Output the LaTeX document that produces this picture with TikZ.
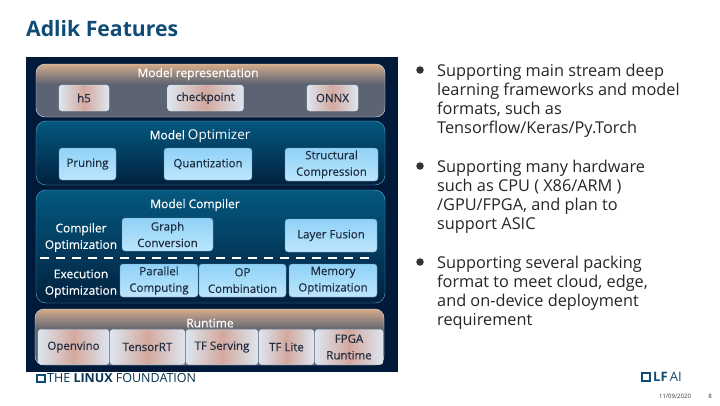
\documentclass[tikz,border=0pt]{standalone}
\usepackage{fontspec}
\setmainfont{Open Sans}
\newfontfamily\boxfont[FakeBold=0.35]{Open Sans}
\usepackage{xcolor}
\definecolor{panelbg}{HTML}{021A3A}
\definecolor{bandtop}{HTML}{04587F}
\definecolor{bandlow}{HTML}{02213F}
\definecolor{bandline}{HTML}{5FA9CF}
\definecolor{pinkmid}{HTML}{D4A89E}
\definecolor{paleblue}{HTML}{DDE6F0}
\definecolor{skytop}{HTML}{8FD2F7}
\definecolor{skylow}{HTML}{BDE6FD}
\definecolor{boxtext}{HTML}{1F2D3F}
\definecolor{titleblue}{HTML}{0F4C75}
\usetikzlibrary{positioning}
\pgfdeclareverticalshading{tanshade}{100bp}{
  rgb(0bp)=(0.36,0.39,0.45); rgb(56bp)=(0.36,0.39,0.45);
  rgb(75bp)=(0.83,0.67,0.54); rgb(100bp)=(0.83,0.67,0.54)}

\tikzset{
  blueband/.style={draw=bandline, rounded corners=10pt, top color=bandtop, bottom color=bandlow, inner sep=0pt},
  tanband/.style={draw=paleblue, rounded corners=9pt, shading=tanshade, inner sep=0pt},
  skybox/.style={draw=skytop!70!black, rounded corners=3pt, top color=skytop, bottom color=skylow, text=boxtext, align=center, inner sep=0pt, font=\fontsize{11.5}{16.5}\boxfont},
  pinkbox/.style={draw=paleblue, rounded corners=3pt, left color=paleblue, right color=paleblue, middle color=pinkmid, text=boxtext, align=center, inner sep=0pt, font=\fontsize{11.5}{16.5}\boxfont},
  headtext/.style={text=white, align=center, font=\fontsize{12}{16.5}\boxfont},
  bodytext/.style={anchor=north west, align=left, inner sep=0pt, text=black!85, font=\fontsize{16.3}{19}\selectfont},
  dotmark/.style={circle, fill=black!80, minimum size=7.5pt, inner sep=0pt}
}

\begin{document}
\begin{tikzpicture}[x=1pt,y=-1pt]
  \useasboundingbox (0,0) rectangle (720,405);
  \fill[white] (0,0) rectangle (720,405);

  % title
  \node[anchor=west, inner sep=0pt, text=titleblue, font=\fontsize{21.2}{26}\selectfont\bfseries] (title) at (26,29) {Adlik Features};

  % panel and bands
  \node[fill=panelbg, minimum width=372pt, minimum height=315pt, inner sep=0pt] (panel) at (212,214.5) {};
  \node[tanband, minimum width=349pt, minimum height=53pt] (repband) at (210.5,90.5) {};
  \node[blueband, minimum width=349pt, minimum height=64pt] (optband) at (210.5,153) {};
  \node[blueband, minimum width=349pt, minimum height=113pt] (compband) at (210.5,246.5) {};
  \node[tanband, minimum width=349pt, minimum height=56pt] (runband) at (209.5,337) {};

  % model representation
  \node[headtext] (rephead) at (198,74) {Model representation};
  \node[pinkbox, minimum width=50pt, minimum height=26pt] (hfive) at (84,98) {h5};
  \node[pinkbox, minimum width=76pt, minimum height=26pt] (checkpoint) at (205.5,98) {checkpoint};
  \node[pinkbox, minimum width=51pt, minimum height=26pt] (onnx) at (332.5,98) {ONNX};

  % model optimizer
  \node[headtext] (opthead) at (200,136) {Model {\fontsize{13.5}{16}\selectfont\normalfont Optimizer}};
  \node[skybox, minimum width=57pt, minimum height=32pt] (pruning) at (87.5,164) {Pruning};
  \node[skybox, minimum width=88pt, minimum height=32pt] (quant) at (208,164) {Quantization};
  \node[skybox, minimum width=93pt, minimum height=33pt] (struct) at (331.5,164.5) {Structural\\Compression};

  % model compiler
  \node[headtext] (comphead) at (195,205) {Model Compiler};
  \node[headtext] (compopt) at (81,237.5) {Compiler\\Optimization};
  \node[skybox, minimum width=91pt, minimum height=33pt] (graph) at (167.5,234.5) {Graph\\Conversion};
  \node[skybox, minimum width=92pt, minimum height=33pt] (fusion) at (331,235.5) {Layer Fusion};
  \coordinate (dashl) at (40,258);
  \coordinate (dashr) at (376,258);
  \draw[white, line width=2pt, dash pattern=on 9pt off 7pt] (dashl) -- (dashr);
  \node[headtext] (execopt) at (81,283.5) {Execution\\Optimization};
  \node[skybox, minimum width=78pt, minimum height=33pt] (parallel) at (159,280.5) {Parallel\\Computing};
  \node[skybox, minimum width=87pt, minimum height=33pt] (combo) at (242.5,280.5) {OP\\Combination};
  \node[skybox, minimum width=88pt, minimum height=33pt] (memory) at (333,280.5) {Memory\\Optimization};

  % runtime
  \node[headtext] (runhead) at (210,323) {Runtime};
  \node[pinkbox, minimum width=71pt, minimum height=35pt] (openvino) at (73.5,347) {Openvino};
  \node[pinkbox, minimum width=75pt, minimum height=35pt] (tensorrt) at (147.5,347) {TensorRT};
  \node[pinkbox, minimum width=72pt, minimum height=35pt] (serving) at (222,347) {TF Serving};
  \node[pinkbox, minimum width=55pt, minimum height=35pt] (lite) at (286.5,347) {TF Lite};
  \node[pinkbox, minimum width=68pt, minimum height=35pt] (fpga) at (349,347) {FPGA\\Runtime};

  % bullets
  \node[dotmark] (dotone) at (420,70) {};
  \node[dotmark] (dottwo) at (420,166) {};
  \node[dotmark] (dotthree) at (420,262) {};
  \node[bodytext] (textone) at (437,64) {Supporting main stream deep\\learning frameworks and model\\formats, such as\\Tensorflow/Keras/Py.Torch};
  \node[bodytext] (texttwo) at (437,160) {Supporting many hardware\\such as CPU ( X86/ARM )\\/GPU/FPGA, and plan to\\support ASIC};
  \node[bodytext] (textthree) at (437,256) {Supporting several packing\\format to meet cloud, edge,\\and on-device deployment\\requirement};

  % footer
  \draw[titleblue, line width=1.4pt] (37,375) rectangle (45,382);
  \node[anchor=west, inner sep=0pt, text=titleblue!70!black, font=\fontsize{12.5}{14}\selectfont] (lfname) at (47,378.5) {THE \textbf{LINUX} FOUNDATION};
  \draw[titleblue, line width=1.6pt] (642,373) rectangle (650,381);
  \node[anchor=west, inner sep=0pt, text=titleblue, font=\fontsize{13}{15}\selectfont] (lfai) at (653,377) {\textbf{LF}\,AI};
  \node[inner sep=0pt, text=black!80, font=\fontsize{6}{7}\selectfont] (datemark) at (675,396) {11/09/2020};
  \node[inner sep=0pt, text=black!80, font=\fontsize{6}{7}\selectfont] (pagemark) at (710,396) {8};
\end{tikzpicture}
\end{document}
